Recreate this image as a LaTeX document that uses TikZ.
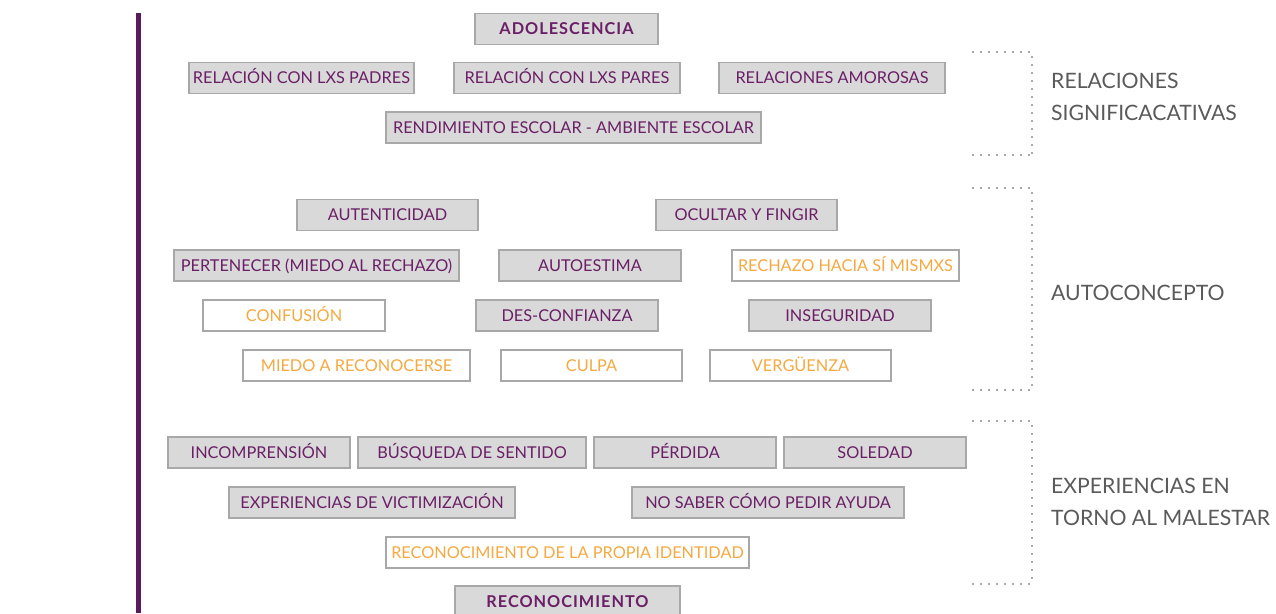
\documentclass[tikz,border=0pt]{standalone}
\usepackage{fontspec}
\setmainfont{Lato}
\newfontfamily\keyfont[LetterSpace=6]{Lato}
\usepackage{xcolor}

\definecolor{barpurple}{HTML}{5B1A5E}
\definecolor{txtpurple}{HTML}{6A1F66}
\definecolor{boxgray}{HTML}{D9D9D9}
\definecolor{edgegray}{HTML}{A8A8A8}
\definecolor{txtorange}{HTML}{F5A940}
\definecolor{lblgray}{HTML}{5A5A5A}

\tikzset{
    gbox/.style={draw=edgegray, line width=1.4pt, fill=boxgray, text=txtpurple,
        minimum height=31pt, inner sep=0pt, text height=11pt, text depth=0pt,
        font=\fontsize{16.3}{19}\selectfont},
    obox/.style={gbox, fill=white, text=txtorange},
    keybox/.style={gbox, font=\fontsize{16.3}{19}\keyfont\bfseries},
    grouplbl/.style={anchor=west, inner sep=0pt, text=lblgray, align=left,
        font=\fontsize{21.2}{32}\selectfont}
}

\begin{document}
\begin{tikzpicture}[x=1pt,y=-1pt]

        \useasboundingbox (0,0) rectangle (1276,613);

        % purple bar
        \fill[barpurple] (135.5,13) rectangle (140.5,613);

        % relaciones significativas
        \node[keybox, minimum width=183pt] (adol) at (566.5,29) {ADOLESCENCIA};
        \node[gbox, minimum width=225pt] (padres) at (301.5,78) {RELACIÓN CON LXS PADRES};
        \node[gbox, minimum width=226pt] (pares) at (567,78) {RELACIÓN CON LXS PARES};
        \node[gbox, minimum width=226pt] (amor) at (832,78) {RELACIONES AMOROSAS};
        \node[gbox, minimum width=375pt] (rend) at (573.5,127.5) {RENDIMIENTO ESCOLAR - AMBIENTE ESCOLAR};

        % autoconcepto
        \node[gbox, minimum width=181pt] (autent) at (387.5,215) {AUTENTICIDAD};
        \node[gbox, minimum width=181pt] (ocultar) at (746.5,215) {OCULTAR Y FINGIR};
        \node[gbox, minimum width=285pt] (pertenecer) at (316.5,265.5) {PERTENECER (MIEDO AL RECHAZO)};
        \node[gbox, minimum width=182pt] (autoest) at (590,265.5) {AUTOESTIMA};
        \node[obox, minimum width=227pt] (rechazo) at (845.5,265.5) {RECHAZO HACIA SÍ MISMXS};
        \node[obox, minimum width=182pt] (confusion) at (294,315.5) {CONFUSIÓN};
        \node[gbox, minimum width=182pt] (desconf) at (567,315.5) {DES-CONFIANZA};
        \node[gbox, minimum width=182pt] (insegur) at (840,315.5) {INSEGURIDAD};
        \node[obox, minimum width=227pt] (miedo) at (356.5,365.5) {MIEDO A RECONOCERSE};
        \node[obox, minimum width=181pt] (culpa) at (591.5,365.5) {CULPA};
        \node[obox, minimum width=181pt] (verg) at (800.5,365.5) {VERGÜENZA};

        % experiencias en torno al malestar
        \node[gbox, minimum width=182pt] (incompr) at (259,452.5) {INCOMPRENSIÓN};
        \node[gbox, minimum width=228pt] (busqueda) at (472,452.5) {BÚSQUEDA DE SENTIDO};
        \node[gbox, minimum width=182pt] (perdida) at (685,452.5) {PÉRDIDA};
        \node[gbox, minimum width=182pt] (soledad) at (875,452.5) {SOLEDAD};
        \node[gbox, minimum width=286pt] (victim) at (372,502.5) {EXPERIENCIAS DE VICTIMIZACIÓN};
        \node[gbox, minimum width=272pt] (ayuda) at (768,502.5) {NO SABER CÓMO PEDIR AYUDA};
        \node[obox, minimum width=363pt] (identidad) at (567.5,552.5) {RECONOCIMIENTO DE LA PROPIA IDENTIDAD};
        \node[keybox, minimum width=225pt, minimum height=32pt] (recon) at (567.5,602) {RECONOCIMIENTO};

        % dotted brackets
        \foreach \t/\b/\n in {52/155/rs, 188/390/ac, 421/584/em}{
            \coordinate (\n-tl) at (972,\t);
            \coordinate (\n-tr) at (1032,\t);
            \coordinate (\n-br) at (1032,\b);
            \coordinate (\n-bl) at (972,\b);
            \draw[edgegray, line width=1.8pt, dash pattern=on 1.8pt off 6.2pt]
                (\n-tl) -- (\n-tr) -- (\n-br);
            \draw[edgegray, line width=1.8pt, dash pattern=on 1.8pt off 6.2pt]
                (\n-bl) -- (\n-br);
        }

        % group labels
        \node[grouplbl] (rslbl) at (1051,97) {RELACIONES\\SIGNIFICACATIVAS};
        \node[grouplbl] (aclbl) at (1051,293) {AUTOCONCEPTO};
        \node[grouplbl] (emlbl) at (1051,502) {EXPERIENCIAS EN\\TORNO AL MALESTAR};

\end{tikzpicture}
\end{document}
